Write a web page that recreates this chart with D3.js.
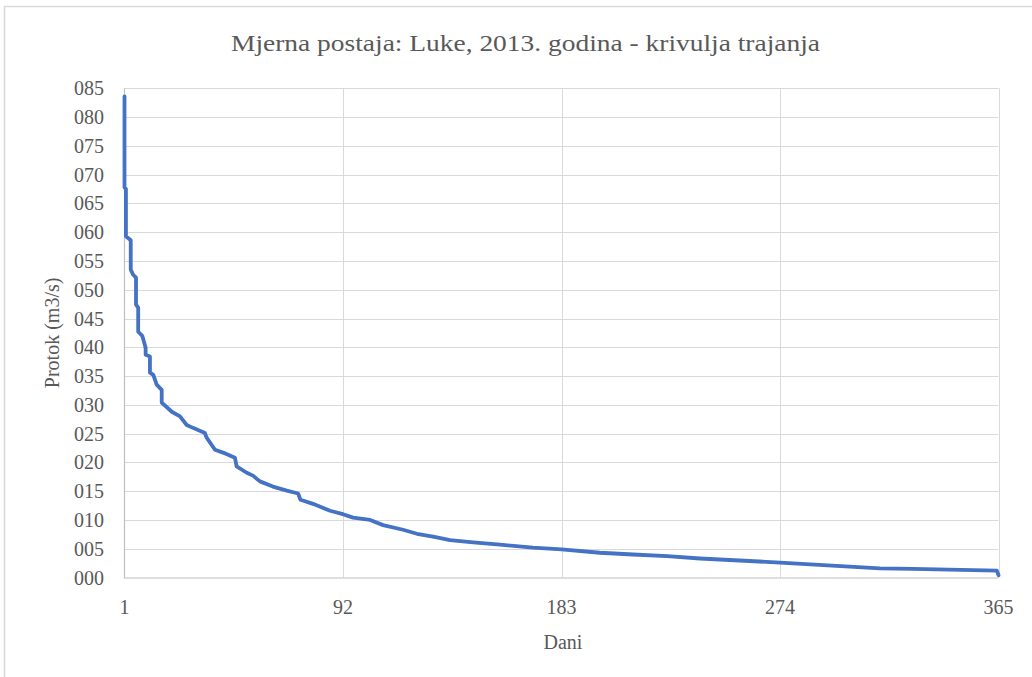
<!DOCTYPE html>
<html>
<head>
<meta charset="utf-8">
<script src="https://cdn.jsdelivr.net/npm/d3@7/dist/d3.min.js"></script>
<style>
  html, body { margin: 0; padding: 0; background: #fff; }
  svg { display: block; }
</style>
</head>
<body>
<svg id="chart" width="1032" height="677"></svg>
<script>
// ---- data (duration curve, sorted flows) ----
const days = [1, 1, 1.6, 1.6, 3.6, 3.6, 4.6, 5.8, 5.8, 6.7, 6.7, 8.4, 9.8, 9.8, 11.6, 11.6, 13, 14.4, 16.5, 16.5,
  20.7, 24.1, 26.9, 29.5, 34.5, 35.2, 38.7, 42, 47, 47.7, 51.9, 54.5, 57.4, 62.8, 68.6, 73.3, 74.3, 79.5,
  86.6, 92, 96.2, 103.3, 108.7, 117, 122.8, 129.5, 136.6, 146.2, 157.4, 171.1, 183, 199, 212.8, 227, 240.7,
  274, 315.6, 329.4, 364.3, 365];
const flow = [83.6, 67.8, 67.5, 59.3, 58.6, 53.5, 52.6, 52.1, 47.4, 46.9, 42.7, 42.0, 39.9, 38.7, 38.4, 35.6, 35.2, 33.5, 32.6, 30.4,
  28.8, 28.0, 26.5, 26.0, 25.1, 24.3, 22.2, 21.7, 20.8, 19.3, 18.2, 17.7, 16.7, 15.8, 15.1, 14.6, 13.5, 12.8,
  11.6, 11.0, 10.4, 10.0, 9.1, 8.3, 7.6, 7.1, 6.5, 6.1, 5.7, 5.2, 4.9, 4.3, 4.0, 3.7, 3.3,
  2.6, 1.6, 1.5, 1.2, 0.4];
const xTicks = [1, 92, 183, 274, 365];
const yTicks = [0, 5, 10, 15, 20, 25, 30, 35, 40, 45, 50, 55, 60, 65, 70, 75, 80, 85];
const yTickLabels = ["000", "005", "010", "015", "020", "025", "030", "035", "040", "045", "050", "055", "060", "065", "070", "075", "080", "085"];
const title = "Mjerna postaja: Luke, 2013. godina - krivulja trajanja";
const xTitle = "Dani";
const yTitle = "Protok (m3/s)";

const FONT = "'Liberation Serif', 'DejaVu Serif', serif";
const svg = d3.select("#chart");
const L = 124.5, R = 998.5, T = 88.3, B = 577.5;

const x = d3.scaleLinear().domain([1, 365]).range([L, R]);
const y = d3.scaleLinear().domain([0, 85]).range([B, T]);

// outer chart border
svg.append("rect").attr("x", 4.5).attr("y", 6.5).attr("width", 1060).attr("height", 700)
  .attr("fill", "none").attr("stroke", "#d9d9d9").attr("stroke-width", 1.5);

// horizontal gridlines
svg.append("g").selectAll("line").data(yTicks.filter(d => d > 0)).join("line")
  .attr("x1", L).attr("x2", R)
  .attr("y1", d => Math.round(y(d)) + 0.5).attr("y2", d => Math.round(y(d)) + 0.5)
  .attr("stroke", "#d9d9d9").attr("stroke-width", 1);

// vertical gridlines
svg.append("g").selectAll("line").data(xTicks.filter(d => d > 1)).join("line")
  .attr("y1", T).attr("y2", B)
  .attr("x1", d => Math.round(x(d)) + 0.5).attr("x2", d => Math.round(x(d)) + 0.5)
  .attr("stroke", "#d9d9d9").attr("stroke-width", 1);

// axes lines
svg.append("line").attr("x1", L).attr("x2", L).attr("y1", T).attr("y2", B + 1)
  .attr("stroke", "#bfbfbf").attr("stroke-width", 1.2);
svg.append("line").attr("x1", L).attr("x2", R).attr("y1", B + 0.5).attr("y2", B + 0.5)
  .attr("stroke", "#bfbfbf").attr("stroke-width", 1.2);

// y tick labels
svg.append("g").selectAll("text").data(yTicks).join("text")
  .attr("x", 104).attr("y", d => y(d)).attr("dy", "0.35em")
  .attr("text-anchor", "end").attr("font-size", 20)
  .attr("font-family", FONT).attr("fill", "#595959")
  .text((d, i) => yTickLabels[i]);

// x tick labels
svg.append("g").selectAll("text").data(xTicks).join("text")
  .attr("x", d => x(d)).attr("y", 614)
  .attr("text-anchor", "middle").attr("font-size", 20)
  .attr("font-family", FONT).attr("fill", "#595959")
  .text(d => d);

// line
const line = d3.line().x((d, i) => x(days[i])).y((d, i) => y(flow[i]));
svg.append("path").datum(flow)
  .attr("d", line)
  .attr("fill", "none").attr("stroke", "#4472c4").attr("stroke-width", 3.8)
  .attr("stroke-linejoin", "round").attr("stroke-linecap", "round");

// titles
svg.append("text").attr("x", 525.5).attr("y", 51).attr("text-anchor", "middle")
  .attr("font-size", 23).attr("textLength", 589).attr("lengthAdjust", "spacingAndGlyphs")
  .attr("font-family", FONT).attr("fill", "#595959")
  .text(title);
svg.append("text").attr("x", 563).attr("y", 649).attr("text-anchor", "middle")
  .attr("font-size", 20).attr("font-family", FONT).attr("fill", "#595959").text(xTitle);
svg.append("text").attr("transform", `translate(59, ${(T + B) / 2}) rotate(-90)`)
  .attr("text-anchor", "middle").attr("font-size", 20)
  .attr("font-family", FONT).attr("fill", "#595959").text(yTitle);
</script>
</body>
</html>
